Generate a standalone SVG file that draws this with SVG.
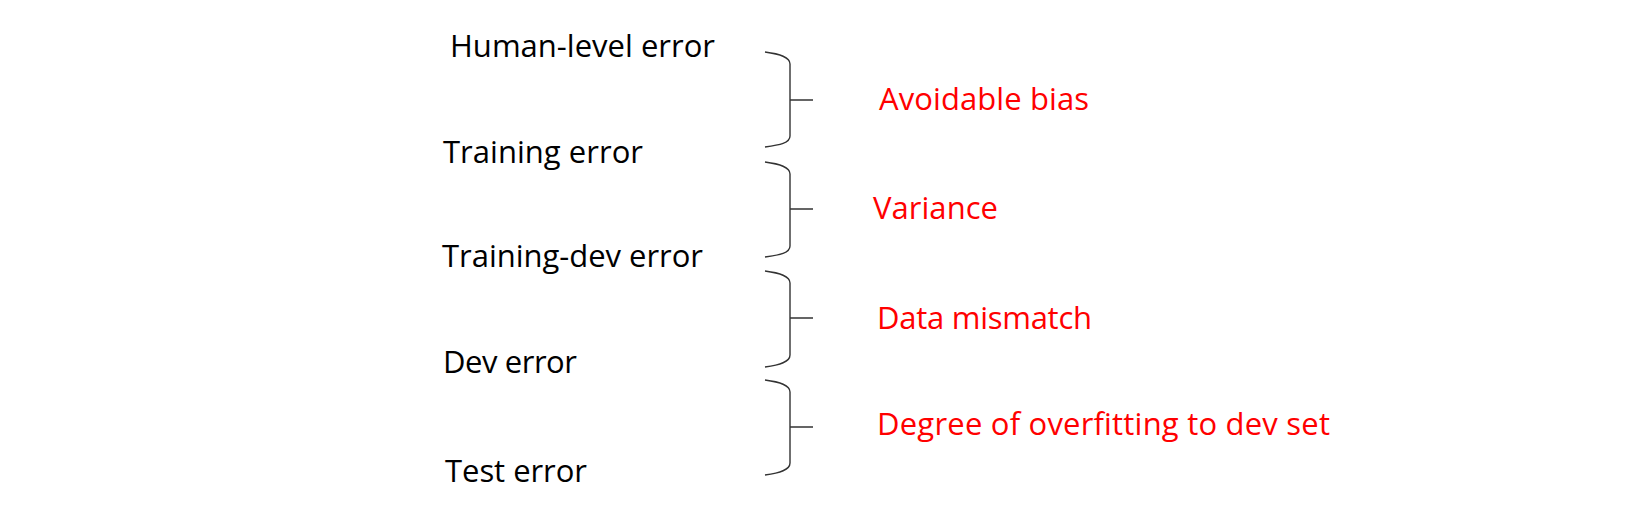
<svg xmlns="http://www.w3.org/2000/svg" width="1645" height="521" viewBox="0 0 1645 521">
<style>
.lbl{font-family:"Open Sans","Noto Sans",sans-serif;font-size:31px;fill:#000}
.red{font-family:"Open Sans","Noto Sans",sans-serif;font-size:31px;fill:#ff0000}
.br{fill:none;stroke:#333;stroke-width:1.4}
</style>
<rect width="1645" height="521" fill="#fff"/>
<g id="human-level"><text class="lbl" x="450" y="57" textLength="265" lengthAdjust="spacing">Human-level error</text></g>
<g id="training"><text class="lbl" x="443" y="163" textLength="200" lengthAdjust="spacing">Training error</text></g>
<g id="training-dev"><text class="lbl" x="442" y="267" textLength="261" lengthAdjust="spacing">Training-dev error</text></g>
<g id="dev"><text class="lbl" x="443" y="373" textLength="134" lengthAdjust="spacing">Dev error</text></g>
<g id="test"><text class="lbl" x="445" y="482" textLength="142" lengthAdjust="spacing">Test error</text></g>
<g id="avoidable-bias"><text class="red" x="879" y="110" textLength="210" lengthAdjust="spacing">Avoidable bias</text></g>
<g id="variance"><text class="red" x="873" y="219" textLength="125" lengthAdjust="spacing">Variance</text></g>
<g id="data-mismatch"><text class="red" x="877" y="329" textLength="215" lengthAdjust="spacing">Data mismatch</text></g>
<g id="overfitting"><text class="red" x="877" y="435" textLength="453" lengthAdjust="spacing">Degree of overfitting to dev set</text></g>
<g id="connectors">
<path class="br" d="M765,52 C780,54 790,57 790,64 L790,136 C790,143 780,145 765,147 M790,100 L813,100"/>
<path class="br" d="M765,162 C780,164 790,167 790,174 L790,246 C790,253 780,255 765,257 M790,209 L813,209"/>
<path class="br" d="M765,271 C780,273 790,276 790,283 L790,355 C790,362 780,365 765,367 M790,318 L813,318"/>
<path class="br" d="M765,380 C780,382 790,385 790,392 L790,463 C790,470 780,473 765,475 M790,427 L813,427"/>
</g>
</svg>
